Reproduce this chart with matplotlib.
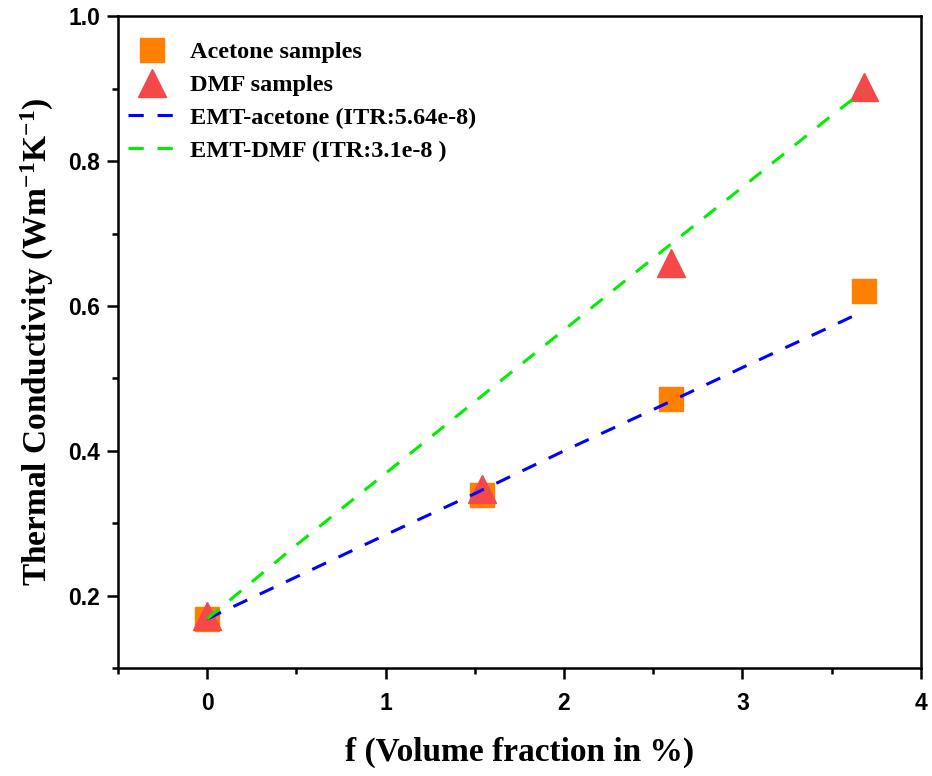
import numpy as np
import matplotlib.pyplot as plt
from matplotlib.ticker import MultipleLocator

# datos
f_muestras = [0.0, 1.54, 2.60, 3.68]
k_acetona = [0.168, 0.339, 0.472, 0.621]
k_dmf = [0.172, 0.348, 0.659, 0.903]

f_emt = [0.0, 0.5, 1.0, 1.5, 2.0, 2.5, 3.0, 3.5, 3.68]
k_emt_acetona = [0.168, 0.226, 0.284, 0.341, 0.400, 0.457, 0.515, 0.572, 0.593]
k_emt_dmf = [0.168, 0.270, 0.369, 0.468, 0.567, 0.666, 0.764, 0.863, 0.897]

serif = "Liberation Serif"
sans = "Liberation Sans"
plt.rcParams["mathtext.default"] = "regular"

fig = plt.figure(figsize=(9.32, 7.76), dpi=100)
ax = fig.add_axes([0.1266, 0.139, 0.8614, 0.840])

ax.plot(f_muestras, k_acetona, ls="none", marker="s", ms=17,
        color="#ff8000", label="Acetone samples", zorder=3)
ax.plot(f_muestras, k_dmf, ls="none", marker="^", ms=20,
        color="#f54848", label="DMF samples", zorder=3)
ax.plot(f_emt, k_emt_acetona, ls=(0, (5, 4.5)), lw=2.2, color="#0000ff",
        label="EMT-acetone (ITR:5.64e-8)", zorder=4)
ax.plot(f_emt, k_emt_dmf, ls=(0, (5, 4.5)), lw=2.2, color="#00ee00",
        label="EMT-DMF (ITR:3.1e-8 )", zorder=4)

ax.set_xlim(-0.5, 4)
ax.set_ylim(0.1, 1.0)
ax.xaxis.set_major_locator(MultipleLocator(1))
ax.xaxis.set_minor_locator(MultipleLocator(0.5))
ax.yaxis.set_major_locator(MultipleLocator(0.2))
ax.yaxis.set_minor_locator(MultipleLocator(0.1))
ax.tick_params(which="major", direction="out", length=8, width=1.8,
               labelsize=16.5, pad=5)
ax.tick_params(which="minor", direction="out", length=4.5, width=1.8)
ax.tick_params(axis="x", which="major", pad=9)
for lbl in ax.get_xticklabels() + ax.get_yticklabels():
    lbl.set_fontfamily(sans)
    lbl.set_fontweight("bold")
for s in ax.spines.values():
    s.set_linewidth(1.8)

ax.set_xlabel("f (Volume fraction in %)", fontfamily=serif,
              fontweight="bold", fontsize=24, labelpad=16)
ax.set_ylabel("Thermal Conductivity (Wm$^{-1}$K$^{-1}$)",
              fontfamily=serif, fontweight="bold", fontsize=24, labelpad=9)

leg = ax.legend(loc="upper left", bbox_to_anchor=(0.0125, 0.962),
                frameon=False, prop={"family": serif, "weight": "bold",
                "size": 17.5}, handlelength=2.0, borderaxespad=0,
                borderpad=0, labelspacing=0.45, handletextpad=0.55)

fig.savefig("out.png", dpi=100)
